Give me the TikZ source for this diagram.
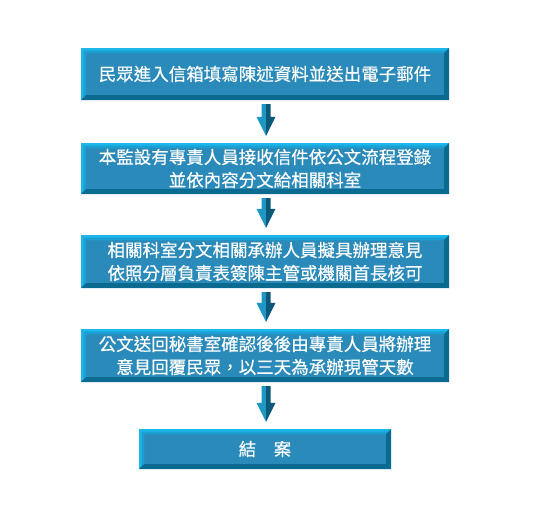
\documentclass[tikz,border=0pt]{standalone}
\usepackage{fontspec}
\newfontfamily\cjk[FakeBold=0.4]{Noto Sans CJK TC}
\usetikzlibrary{calc}
\definecolor{faceblue}{HTML}{2A8AB9}
\definecolor{lightbev}{HTML}{1DB6EA}
\definecolor{lightbevin}{HTML}{1A9FD3}
\definecolor{darkbev}{HTML}{0A6A90}
\definecolor{arrowlight}{HTML}{1E97C4}
\definecolor{arrowdark}{HTML}{0B5878}
\tikzset{
  bevelbox/.style={fill=faceblue, inner sep=0pt, text=white, align=center,
    font=\cjk\fontsize{17.5pt}{23pt}\selectfont,
    path picture={
      \fill[lightbev] (path picture bounding box.north west) -- (path picture bounding box.north east)
        -- ([xshift=-5pt,yshift=-5pt]path picture bounding box.north east)
        -- ([xshift=5pt,yshift=-5pt]path picture bounding box.north west)
        -- ([xshift=5pt,yshift=5pt]path picture bounding box.south west)
        -- (path picture bounding box.south west) -- cycle;
      \fill[lightbevin] ([xshift=2.5pt,yshift=-2.5pt]path picture bounding box.north west)
        -- ([xshift=-2.5pt,yshift=-2.5pt]path picture bounding box.north east)
        -- ([xshift=-5pt,yshift=-5pt]path picture bounding box.north east)
        -- ([xshift=5pt,yshift=-5pt]path picture bounding box.north west)
        -- ([xshift=5pt,yshift=5pt]path picture bounding box.south west)
        -- ([xshift=2.5pt,yshift=2.5pt]path picture bounding box.south west) -- cycle;
      \fill[darkbev] (path picture bounding box.south east) -- (path picture bounding box.south west)
        -- ([xshift=5pt,yshift=5pt]path picture bounding box.south west)
        -- ([xshift=-5pt,yshift=5pt]path picture bounding box.south east)
        -- ([xshift=-5pt,yshift=-5pt]path picture bounding box.north east)
        -- (path picture bounding box.north east) -- cycle;
    }},
}
\begin{document}
\begin{tikzpicture}[x=1pt,y=-1pt]
\useasboundingbox (0,0) rectangle (540,520);
\node[bevelbox, minimum width=368pt, minimum height=52pt] (b1) at (265,74) {民眾進入信箱填寫陳述資料並送出電子郵件};
\node[bevelbox, minimum width=368pt, minimum height=51pt] (b2) at (265,168.5) {本監設有專責人員接收信件依公文流程登錄\\並依內容分文給相關科室};
\node[bevelbox, minimum width=368pt, minimum height=53pt] (b3) at (265,261.5) {相關科室分文相關承辦人員擬具辦理意見\\依照分層負責表簽陳主管或機關首長核可};
\node[bevelbox, minimum width=368pt, minimum height=53pt] (b4) at (265,355.5) {公文送回秘書室確認後後由專責人員將辦理\\意見回覆民眾，以三天為承辦現管天數};
\node[bevelbox, minimum width=252pt, minimum height=40pt] (b5) at (265,449) {結　案};
\foreach \a/\b in {b1/b2,b2/b3,b3/b4,b4/b5}{
  \coordinate (s) at ([xshift=1pt,yshift=-4pt]\a.south);
  \coordinate (t) at ([xshift=1pt,yshift=7pt]\b.north);
  \coordinate (h) at ($(t)+(0,-19)$);
  \fill[arrowlight] (s) -- ($(s)+(-4.5,0)$) -- ($(h)+(-4.5,0)$) -- ($(h)+(-9.5,0)$) -- (t) -- cycle;
  \fill[arrowdark] (s) -- ($(s)+(4.5,0)$) -- ($(h)+(4.5,0)$) -- ($(h)+(9.5,0)$) -- (t) -- cycle;
}
\end{tikzpicture}
\end{document}
